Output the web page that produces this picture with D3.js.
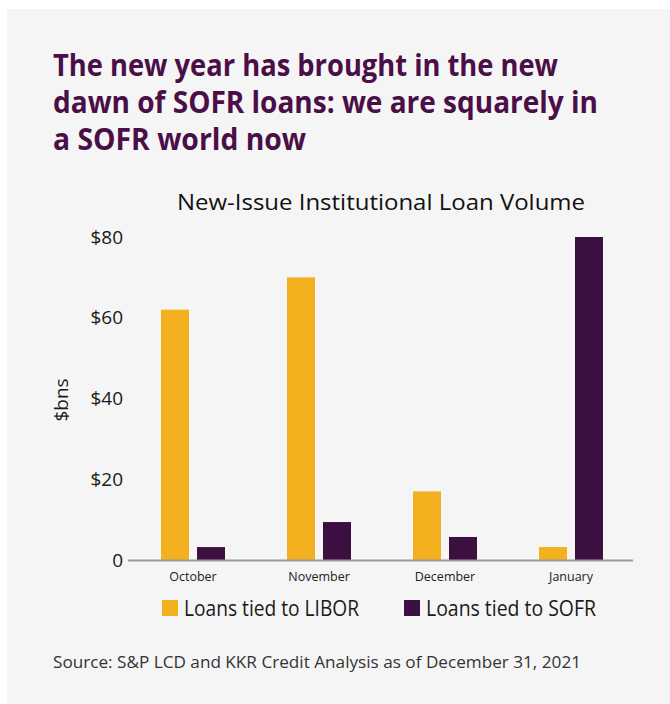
<!DOCTYPE html>
<html>
<head>
<meta charset="utf-8">
<script src="https://cdn.jsdelivr.net/npm/d3@7/dist/d3.min.js"></script>
<style>
  html, body { margin: 0; padding: 0; background: #ffffff; }
  svg { display: block; }
</style>
</head>
<body>
<div id="chart"></div>
<script>
// Monthly new-issue institutional loan volume, $bn
const months = ["October", "November", "December", "January"];
const liborValues = [62, 70, 17, 3.2];
const sofrValues = [3.2, 9.4, 5.7, 80];
const seriesNames = ["Loans tied to LIBOR", "Loans tied to SOFR"];
const seriesColors = ["#f3b01f", "#3b0f40"];
const yTicks = [0, 20, 40, 60, 80];
const yTickLabels = ["0", "$20", "$40", "$60", "$80"];

const titleLines = [
  "The new year has brought in the new",
  "dawn of SOFR loans: we are squarely in",
  "a SOFR world now"
];
const chartTitle = "New-Issue Institutional Loan Volume";
const sourceNote = "Source: S&P LCD and KKR Credit Analysis as of December 31, 2021";

const W = 670, H = 704;
const svg = d3.select("#chart").append("svg")
  .attr("width", W).attr("height", H);

// grey card
svg.append("rect")
  .attr("x", 7).attr("y", 9)
  .attr("width", W - 7).attr("height", H - 9)
  .attr("fill", "#f5f5f5");

const font = "'Open Sans', 'Noto Sans', sans-serif";

// headline
const headline = svg.append("g");
const lineWidths = [505, 545, 253];
titleLines.forEach((t, i) => {
  headline.append("text")
    .attr("x", 53).attr("y", 76 + i * 37)
    .attr("font-family", font)
    .attr("font-weight", 700)
    .attr("font-size", 30)
    .attr("fill", "#4b0f48")
    .attr("textLength", lineWidths[i])
    .attr("lengthAdjust", "spacingAndGlyphs")
    .text(t);
});

// chart title
svg.append("text")
  .attr("x", 177).attr("y", 210)
  .attr("font-family", font)
  .attr("font-size", 22.5)
  .attr("fill", "#111")
  .attr("textLength", 408)
  .attr("lengthAdjust", "spacingAndGlyphs")
  .text(chartTitle);

// scales
const x0 = d3.scaleBand().domain(months).range([130, 634]).paddingInner(0).paddingOuter(0);
const groupW = 64;
const x1 = d3.scaleBand().domain([0, 1]).range([0, groupW]).paddingInner(8 / 36).paddingOuter(0);
const y = d3.scaleLinear().domain([0, 80]).range([560, 237]);

// bars
const data = months.map((m, i) => ({ month: m, values: [liborValues[i], sofrValues[i]] }));
const groups = svg.append("g").selectAll("g").data(data).join("g")
  .attr("transform", d => `translate(${x0(d.month) + (x0.bandwidth() - groupW) / 2},0)`);
groups.selectAll("rect").data(d => d.values.map((v, k) => ({ v, k }))).join("rect")
  .attr("x", d => x1(d.k))
  .attr("width", x1.bandwidth())
  .attr("y", d => y(d.v))
  .attr("height", d => y(0) - y(d.v))
  .attr("fill", d => seriesColors[d.k]);

// y axis labels
const yAxis = d3.axisLeft(y).tickValues(yTicks)
  .tickFormat((d, i) => yTickLabels[i]).tickSize(0).tickPadding(0);
const yg = svg.append("g").attr("transform", "translate(123,0)").call(yAxis);
yg.select(".domain").remove();
yg.selectAll("text")
  .attr("font-family", font).attr("font-size", 19).attr("fill", "#1a1a1a");

// x axis
const xAxis = d3.axisBottom(x0).tickSize(0).tickPadding(0);
const xg = svg.append("g").attr("transform", "translate(0,560)").call(xAxis);
xg.select(".domain").remove();
xg.selectAll("text")
  .attr("dy", 0).attr("y", 21)
  .attr("font-family", font).attr("font-size", 12.5).attr("fill", "#222");
svg.append("line")
  .attr("x1", 128).attr("x2", 633)
  .attr("y1", 560.5).attr("y2", 560.5)
  .attr("stroke", "#9a9a9a").attr("stroke-width", 2);

// y axis title
svg.append("text")
  .attr("transform", "translate(68,400) rotate(-90)")
  .attr("text-anchor", "middle")
  .attr("font-family", font).attr("font-size", 19).attr("fill", "#1a1a1a")
  .text("$bns");

// legend
const legendX = [162, 404];
const legend = svg.append("g").selectAll("g").data(seriesNames).join("g")
  .attr("transform", (d, i) => `translate(${legendX[i]},600)`);
legend.append("rect").attr("width", 16).attr("height", 16)
  .attr("fill", (d, i) => seriesColors[i]);
legend.append("text")
  .attr("x", 22).attr("y", 15.5)
  .attr("font-family", font).attr("font-size", 21).attr("fill", "#1a1a1a")
  .attr("textLength", (d, i) => [175, 170][i])
  .attr("lengthAdjust", "spacingAndGlyphs")
  .text(d => d);

// source note
svg.append("text")
  .attr("x", 53).attr("y", 668)
  .attr("font-family", font).attr("font-size", 17).attr("fill", "#333")
  .attr("textLength", 528)
  .attr("lengthAdjust", "spacingAndGlyphs")
  .text(sourceNote);
</script>
</body>
</html>
